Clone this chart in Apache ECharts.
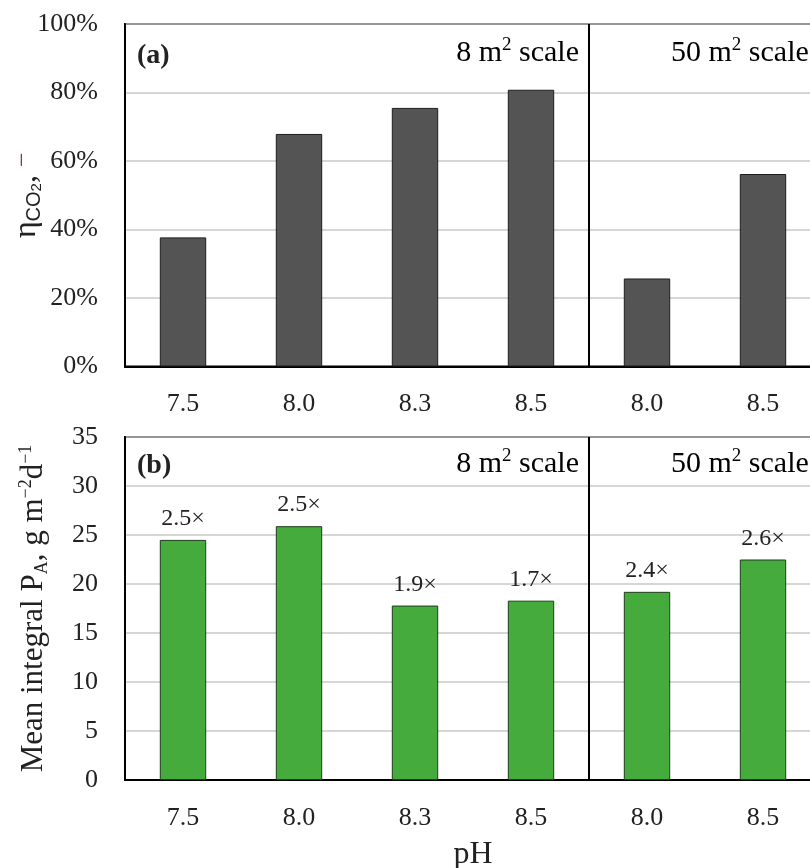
<!DOCTYPE html>
<html>
<head>
<meta charset="utf-8">
<script src="https://cdn.jsdelivr.net/npm/echarts@6/dist/echarts.min.js"></script>
<style>
  html, body { margin: 0; padding: 0; background: #fff; }
  #chart { width: 810px; height: 868px; }
</style>
</head>
<body>
<div id="chart"></div>
<script>
// pH set-points: four runs at the 8 m² scale, two at the 50 m² scale
const phLabels = ['7.5', '8.0', '8.3', '8.5', '8.0', '8.5'];
const scaleBreak = 4; // first run of the 50 m² scale

// (a) CO2 utilisation efficiency, %
const etaCO2 = [37.7, 67.9, 75.5, 80.8, 25.7, 56.2];

// (b) mean integral areal productivity, g m^-2 d^-1
const productivity = [24.5, 25.9, 17.8, 18.3, 19.2, 22.5];
const foldLabels = ['2.5×', '2.5×', '1.9×', '1.7×', '2.4×', '2.6×'];

const yTicksTop = [0, 20, 40, 60, 80, 100];
const yTicksBottom = [0, 5, 10, 15, 20, 25, 30, 35];

const FONT = '"Liberation Serif", "DejaVu Serif", serif';
const chart = echarts.init(document.getElementById('chart'));

// Layout of the two panels
const LEFT = 125, BAND = 116, N = phLabels.length;
const PLOT_W = BAND * N;
const TOP_A = 24, H_A = 342.5;
const TOP_B = 437, H_B = 343;

function categoryAxis(gridIndex, showName) {
  return {
    type: 'category', gridIndex, data: phLabels,
    axisLine: { show: true, lineStyle: { color: '#000', width: 2 } },
    axisTick: { show: false },
    axisLabel: { color: '#222', fontFamily: FONT, fontSize: 26, margin: 25 },
    splitLine: { show: false },
    name: showName ? 'pH' : '',
    nameLocation: 'middle', nameGap: 59, nameMoveOverlap: false,
    nameTextStyle: { color: '#222', fontFamily: FONT, fontSize: 32 }
  };
}

// hidden linear axis spanning the category bands, used for the scale divider
function bandAxis(gridIndex) {
  return { type: 'value', gridIndex, min: 0, max: N, show: false, splitLine: { show: false } };
}

function divider(xIdx, yIdx) {
  return {
    type: 'scatter', xAxisIndex: xIdx, yAxisIndex: yIdx, data: [], silent: true,
    markLine: {
      silent: true, symbol: 'none', animation: false,
      label: { show: false },
      lineStyle: { color: '#000', width: 2, type: 'solid' },
      data: [{ xAxis: scaleBreak }]
    }
  };
}

function scaleTitles(top) {
  const rich = {
    t: { fontFamily: FONT, fontSize: 30, color: '#222', lineHeight: 34 },
    sup: { fontFamily: FONT, fontSize: 19, color: '#222', verticalAlign: 'top', lineHeight: 22 }
  };
  return [
    { type: 'text', x: LEFT + scaleBreak * BAND - 10, y: top,
      style: { text: '{t|8 m}{sup|2}{t| scale}', rich, align: 'right' } },
    { type: 'text', x: LEFT + scaleBreak * BAND + 82, y: top,
      style: { text: '{t|50 m}{sup|2}{t| scale}', rich, align: 'left' } }
  ];
}

const option = {
  backgroundColor: '#fff',
  animation: false,
  grid: [
    { left: LEFT, top: TOP_A, width: PLOT_W, height: H_A, show: true, borderColor: '#000', borderWidth: 2, backgroundColor: 'transparent', outerBoundsMode: 'none', containLabel: false },
    { left: LEFT, top: TOP_B, width: PLOT_W, height: H_B, show: true, borderColor: '#000', borderWidth: 2, backgroundColor: 'transparent', outerBoundsMode: 'none', containLabel: false }
  ],
  xAxis: [categoryAxis(0, false), categoryAxis(1, true), bandAxis(0), bandAxis(1)],
  yAxis: [
    {
      type: 'value', gridIndex: 0, min: yTicksTop[0], max: yTicksTop[yTicksTop.length - 1], interval: 20,
      axisLine: { show: true, lineStyle: { color: '#000', width: 2 } },
      axisTick: { show: false },
      axisLabel: { color: '#222', fontFamily: FONT, fontSize: 26, margin: 27, formatter: '{value}%' },
      splitLine: { lineStyle: { color: '#c8c8c8', width: 1.5 } },
      name: '{eta|η}{sub|CO}{sub2|2}{eta|, }{dash|−}',
      nameLocation: 'middle', nameGap: 81, nameRotate: 90, nameMoveOverlap: false,
      nameTextStyle: {
        color: '#222', fontFamily: FONT, fontSize: 30,
        rich: {
          eta: { fontFamily: FONT, fontSize: 32, color: '#222', lineHeight: 34 },
          sub: { fontFamily: '"Liberation Sans", sans-serif', fontSize: 20, color: '#222', verticalAlign: 'bottom', lineHeight: 24 },
          sub2: { fontFamily: '"Liberation Sans", sans-serif', fontSize: 15, color: '#222', verticalAlign: 'bottom', lineHeight: 15 },
          dash: { fontFamily: FONT, fontSize: 26, color: '#9b2d4a', verticalAlign: 'top', lineHeight: 26 }
        }
      }
    },
    {
      type: 'value', gridIndex: 1, min: yTicksBottom[0], max: yTicksBottom[yTicksBottom.length - 1], interval: 5,
      axisLine: { show: true, lineStyle: { color: '#000', width: 2 } },
      axisTick: { show: false },
      axisLabel: { color: '#222', fontFamily: FONT, fontSize: 26, margin: 27 },
      splitLine: { lineStyle: { color: '#c8c8c8', width: 1.5 } },
      name: '{t|Mean integral P}{sub|A}{t|, g m}{sup|−2}{t|d}{sup|−1}',
      nameLocation: 'middle', nameGap: 74, nameRotate: 90, nameMoveOverlap: false,
      nameTextStyle: {
        color: '#222', fontFamily: FONT, fontSize: 31,
        rich: {
          t: { fontFamily: FONT, fontSize: 31, color: '#222', lineHeight: 34 },
          sub: { fontFamily: FONT, fontSize: 18, color: '#222', verticalAlign: 'bottom', lineHeight: 19 },
          sup: { fontFamily: FONT, fontSize: 18, color: '#222', verticalAlign: 'top', lineHeight: 19 }
        }
      }
    }
  ],
  series: [
    {
      type: 'bar', xAxisIndex: 0, yAxisIndex: 0, data: etaCO2, barWidth: '40%',
      itemStyle: { color: '#545454', borderColor: '#1e1e1e', borderWidth: 1 }
    },
    {
      type: 'bar', xAxisIndex: 1, yAxisIndex: 1, data: productivity, barWidth: '40%',
      itemStyle: { color: '#44ab3c', borderColor: '#1f3d1c', borderWidth: 1 },
      label: {
        show: true, position: 'top', distance: 9,
        color: '#222', fontFamily: FONT, fontSize: 24,
        formatter: function (p) { return foldLabels[p.dataIndex]; }
      }
    },
    divider(2, 0),
    divider(3, 1)
  ],
  graphic: [
    { type: 'text', left: LEFT + 12, top: TOP_A + 18,
      style: { text: '(a)', font: 'bold 28px ' + FONT, fill: '#222' } },
    { type: 'text', left: LEFT + 12, top: TOP_B + 15,
      style: { text: '(b)', font: 'bold 28px ' + FONT, fill: '#222' } }
  ].concat(scaleTitles(TOP_A + 12), scaleTitles(TOP_B + 10))
};

chart.setOption(option);
</script>
</body>
</html>
